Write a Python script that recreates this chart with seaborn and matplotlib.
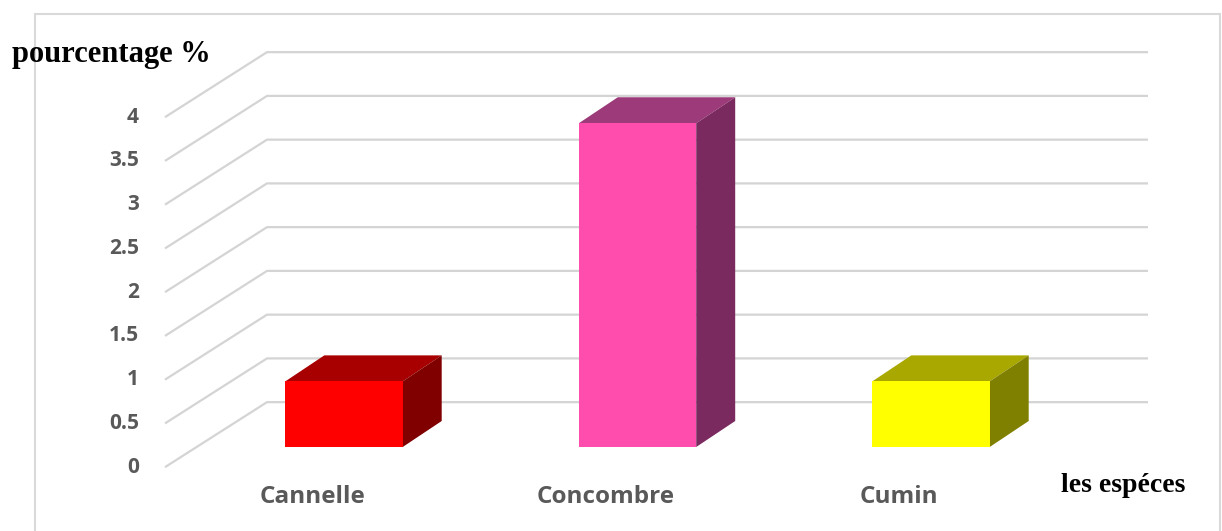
import numpy as np
import pandas as pd
import matplotlib
matplotlib.use("Agg")
import matplotlib.pyplot as plt
from matplotlib.patches import Polygon, Rectangle
import seaborn as sns

# ---- data ----
categories = ["Cannelle", "Concombre", "Cumin"]
values = [0.75, 3.7, 0.75]
front_colors = ["#FF0000", "#FF4DAE", "#FFFF00"]
top_colors = ["#A80000", "#9C3A7A", "#A8A800"]
side_colors = ["#800000", "#7B2A60", "#808000"]
yticks = [0, 0.5, 1, 1.5, 2, 2.5, 3, 3.5, 4]
ytick_labels = ["0", "0.5", "1", "1.5", "2", "2.5", "3", "3.5", "4"]
y_title = "pourcentage %"
x_title = "les espéces"

df = pd.DataFrame({"espece": categories, "pct": values})

sns.set_theme(style="white")
plt.rcParams["font.family"] = ["Open Sans", "DejaVu Sans"]

W, H = 1222, 531
fig = plt.figure(figsize=(W / 100, H / 100), dpi=100)
ax = fig.add_axes([0, 0, 1, 1])

# pixel geometry -> data units
X0PX, SPX = 344, 293.5      # category 0 centre, category spacing (px)
Y0PX, UPX = 447, 87.5       # value 0 of bar front plane, px per unit

def px2x(p):
    return (p - X0PX) / SPX

def px2y(p):
    return (Y0PX - p) / UPX

sns.barplot(data=df, x="espece", y="pct", hue="espece", palette=front_colors,
            width=0.40, legend=False, ax=ax, saturation=1, zorder=5,
            edgecolor="none", linewidth=0)

ax.set_xlim(px2x(0), px2x(W))
ax.set_ylim(px2y(H), px2y(0))
ax.axis("off")

# depth of floor/wall (full) and bars
DX, DY = 102 / SPX, 65 / UPX
F = 0.31
BDX, BDY = 39 / SPX, 26 / UPX

# grid walls
xl_front = px2x(165)
xr = px2x(1148)
for v in yticks:
    yf = v - F * DY
    yb = v + (1 - F) * DY
    ax.plot([xl_front, xl_front + DX, xr], [yf, yb, yb],
            color="#D4D4D4", lw=1.6, zorder=1, solid_capstyle="butt")
for v, lab in zip(yticks, ytick_labels):
    ax.text(px2x(139), v - F * DY, lab,
            ha="right", va="center", fontsize=15, color="#595959",
            fontweight="bold")

# 3D faces from seaborn bars
for patch, tc, sc in zip(ax.patches, top_colors, side_colors):
    x0 = patch.get_x()
    x1 = x0 + patch.get_width()
    h = patch.get_height()
    ax.add_patch(Polygon([(x0, h), (x1, h), (x1 + BDX, h + BDY), (x0 + BDX, h + BDY)],
                         closed=True, facecolor=tc, edgecolor="none", zorder=4))
    ax.add_patch(Polygon([(x1, 0), (x1 + BDX, BDY), (x1 + BDX, h + BDY), (x1, h)],
                         closed=True, facecolor=sc, edgecolor="none", zorder=4))

# category labels on the front floor edge
for i, cat in enumerate(categories):
    ax.text(i - F * DX, px2y(497), cat, ha="center", va="center",
            fontsize=17.5, color="#595959", fontweight="bold")

# titles
ax.text(px2x(12), px2y(55), y_title, ha="left", va="center",
        fontsize=22, fontweight="bold", color="black",
        family=["Liberation Serif", "DejaVu Serif"])
ax.text(px2x(1123), px2y(486), x_title, ha="center", va="center",
        fontsize=20, fontweight="bold", color="black",
        family=["Liberation Serif", "DejaVu Serif"])

# chart border
ax.add_patch(Rectangle((px2x(35), px2y(540)), px2x(1220) - px2x(35),
                       px2y(14) - px2y(540), fill=False, edgecolor="#D9D9D9",
                       lw=1.5, zorder=0))

fig.savefig("out.png", dpi=100)
